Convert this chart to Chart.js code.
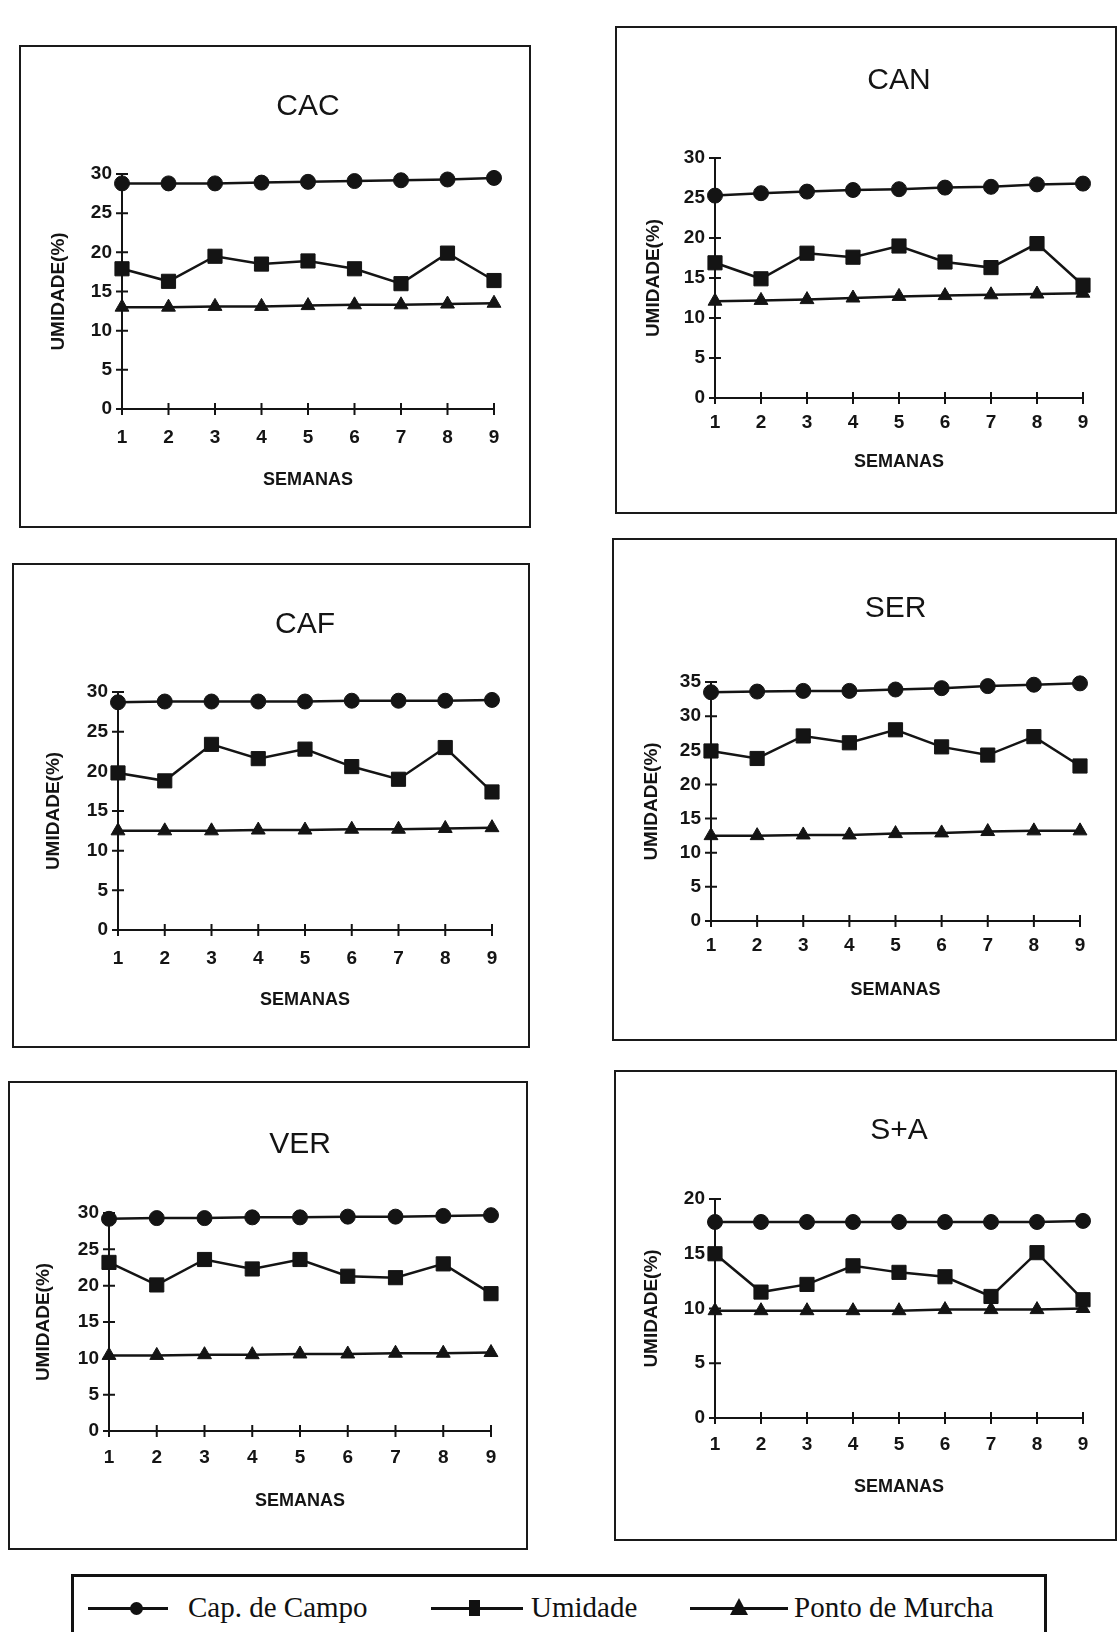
<!DOCTYPE html>
<html>
<head>
<meta charset="utf-8">
<script src="https://cdn.jsdelivr.net/npm/chart.js@4"></script>
<style>
  body { margin: 0; width: 1117px; height: 1632px; background: #fff; position: relative; overflow: hidden; }
  .caixa { position: absolute; outline: 2px solid #1a1a1a; }
  .caixa canvas { position: absolute; left: 0; top: 0; }
  #legenda { position: absolute; left: 71px; top: 1574px; width: 976px; height: 80px; border: 3px solid #111; box-sizing: border-box; font-family: "Liberation Serif", serif; font-size: 29px; color: #111; }
  .item { position: absolute; top: 13px; height: 34px; }
  .traco { position: absolute; top: 17px; height: 3px; background: #111; }
  .txt { position: absolute; top: 0; white-space: nowrap; line-height: 34px; }
  .circ { position: absolute; top: 12px; width: 13px; height: 13px; border-radius: 50%; background: #111; }
  .quad { position: absolute; top: 10px; width: 11px; height: 16px; background: #111; }
  .tri { position: absolute; top: 8px; width: 0; height: 0; border-left: 9px solid transparent; border-right: 9px solid transparent; border-bottom: 17px solid #111; }
</style>
</head>
<body>
<div id="legenda">
  <div class="item" style="left:14px">
    <div class="traco" style="left:0;width:80px"></div>
    <div class="circ" style="left:42px"></div>
    <div class="txt" style="left:100px">Cap. de Campo</div>
  </div>
  <div class="item" style="left:357px">
    <div class="traco" style="left:0;width:92px"></div>
    <div class="quad" style="left:38px"></div>
    <div class="txt" style="left:100px">Umidade</div>
  </div>
  <div class="item" style="left:616px">
    <div class="traco" style="left:0;width:98px"></div>
    <div class="tri" style="left:40px"></div>
    <div class="txt" style="left:104px">Ponto de Murcha</div>
  </div>
</div>
<script>
// semanas no eixo x
const semanas = ['1', '2', '3', '4', '5', '6', '7', '8', '9']

// CAC
const cacCampo = [28.8, 28.8, 28.8, 28.9, 29.0, 29.1, 29.2, 29.3, 29.5]
const cacUmidade = [17.9, 16.3, 19.5, 18.5, 18.9, 17.9, 16.0, 19.9, 16.4]
const cacMurcha = [13.0, 13.0, 13.1, 13.1, 13.2, 13.3, 13.3, 13.4, 13.5]

// CAN
const canCampo = [25.3, 25.6, 25.8, 26.0, 26.1, 26.3, 26.4, 26.7, 26.8]
const canUmidade = [16.9, 14.9, 18.1, 17.6, 19.0, 17.0, 16.3, 19.3, 14.1]
const canMurcha = [12.1, 12.2, 12.3, 12.5, 12.7, 12.8, 12.9, 13.0, 13.1]

// CAF
const cafCampo = [28.7, 28.8, 28.8, 28.8, 28.8, 28.9, 28.9, 28.9, 29.0]
const cafUmidade = [19.8, 18.8, 23.4, 21.6, 22.8, 20.6, 19.0, 23.0, 17.4]
const cafMurcha = [12.5, 12.5, 12.5, 12.6, 12.6, 12.7, 12.7, 12.8, 12.9]

// SER
const serCampo = [33.5, 33.6, 33.7, 33.7, 33.9, 34.1, 34.4, 34.6, 34.8]
const serUmidade = [24.9, 23.8, 27.1, 26.1, 28.0, 25.5, 24.3, 27.0, 22.7]
const serMurcha = [12.5, 12.5, 12.6, 12.6, 12.8, 12.9, 13.1, 13.2, 13.2]

// VER
const verCampo = [29.2, 29.3, 29.3, 29.4, 29.4, 29.5, 29.5, 29.6, 29.7]
const verUmidade = [23.2, 20.1, 23.6, 22.3, 23.6, 21.3, 21.1, 23.0, 18.9]
const verMurcha = [10.4, 10.4, 10.5, 10.5, 10.6, 10.6, 10.7, 10.7, 10.8]

// S+A
const saCampo = [17.9, 17.9, 17.9, 17.9, 17.9, 17.9, 17.9, 17.9, 18.0]
const saUmidade = [15.0, 11.5, 12.2, 13.9, 13.3, 12.9, 11.1, 15.1, 10.8]
const saMurcha = [9.8, 9.8, 9.8, 9.8, 9.8, 9.9, 9.9, 9.9, 10.0]

const cor = '#141414'
const fonte = '"Liberation Sans", Arial, sans-serif'

// posicao de cada quadro na pagina
const paineis = [
  { nome: 'CAC', campo: cacCampo, umidade: cacUmidade, murcha: cacMurcha, yMax: 30,
    box: { l: 21, t: 47, r: 529, b: 526 }, plot: { l: 122, t: 174, r: 494, b: 409 }, titleY: 107, yTitleX: 59, xTitleY: 479, xPad: 17 },
  { nome: 'CAN', campo: canCampo, umidade: canUmidade, murcha: canMurcha, yMax: 30,
    box: { l: 617, t: 28, r: 1115, b: 512 }, plot: { l: 715, t: 158, r: 1083, b: 398 }, titleY: 81, yTitleX: 654, xTitleY: 461, xPad: 13 },
  { nome: 'CAF', campo: cafCampo, umidade: cafUmidade, murcha: cafMurcha, yMax: 30,
    box: { l: 14, t: 565, r: 528, b: 1046 }, plot: { l: 118, t: 692, r: 492, b: 930 }, titleY: 625, yTitleX: 54, xTitleY: 999, xPad: 17 },
  { nome: 'SER', campo: serCampo, umidade: serUmidade, murcha: serMurcha, yMax: 35,
    box: { l: 614, t: 540, r: 1115, b: 1039 }, plot: { l: 711, t: 682, r: 1080, b: 921 }, titleY: 609, yTitleX: 652, xTitleY: 989, xPad: 13 },
  { nome: 'VER', campo: verCampo, umidade: verUmidade, murcha: verMurcha, yMax: 30,
    box: { l: 10, t: 1083, r: 526, b: 1548 }, plot: { l: 109, t: 1213, r: 491, b: 1431 }, titleY: 1145, yTitleX: 44, xTitleY: 1500, xPad: 15 },
  { nome: 'S+A', campo: saCampo, umidade: saUmidade, murcha: saMurcha, yMax: 20,
    box: { l: 616, t: 1072, r: 1115, b: 1539 }, plot: { l: 715, t: 1199, r: 1083, b: 1418 }, titleY: 1131, yTitleX: 652, xTitleY: 1486, xPad: 15 }
]

// marcas em cruz nos eixos
const cruzes = {
  id: 'cruzes',
  beforeDatasetsDraw(chart) {
    const ctx = chart.ctx
    const area = chart.chartArea
    const sx = chart.scales.x
    const sy = chart.scales.y
    ctx.save()
    ctx.strokeStyle = cor
    ctx.lineWidth = 2
    ctx.beginPath()
    sy.ticks.forEach((t, i) => {
      const y = sy.getPixelForTick(i)
      ctx.moveTo(area.left - 6, y)
      ctx.lineTo(area.left + 6, y)
    })
    sx.ticks.forEach((t, i) => {
      const x = sx.getPixelForTick(i)
      ctx.moveTo(x, area.bottom - 6)
      ctx.lineTo(x, area.bottom + 6)
    })
    ctx.stroke()
    ctx.restore()
  }
}

function serie(label, data, estilo, raio) {
  return {
    label: label,
    data: data,
    borderColor: cor,
    backgroundColor: cor,
    borderWidth: 2.5,
    pointStyle: estilo,
    pointRadius: raio,
    pointBorderWidth: 1,
    tension: 0,
    clip: false
  }
}

function criaPainel(p) {
  const w = p.box.r - p.box.l
  const h = p.box.b - p.box.t
  const div = document.createElement('div')
  div.className = 'caixa'
  div.style.left = p.box.l + 'px'
  div.style.top = p.box.t + 'px'
  div.style.width = w + 'px'
  div.style.height = h + 'px'
  const canvas = document.createElement('canvas')
  canvas.width = w
  canvas.height = h
  canvas.style.width = w + 'px'
  canvas.style.height = h + 'px'
  div.appendChild(canvas)
  document.body.appendChild(div)

  const plotL = p.plot.l - p.box.l
  const plotT = p.plot.t - p.box.t
  const plotR = p.plot.r - p.box.l
  const plotB = p.plot.b - p.box.t
  const titleY = p.titleY - p.box.t
  const padLeft = p.yTitleX - p.box.l - 11.4
  const xAxisH = p.xTitleY - p.box.t - plotB + 11.4
  const padBottom = h - plotB - xAxisH

  new Chart(canvas, {
    type: 'line',
    data: {
      labels: semanas,
      datasets: [
        serie('Cap. de Campo', p.campo, 'circle', 7.5),
        serie('Umidade', p.umidade, 'rect', 10),
        serie('Ponto de Murcha', p.murcha, 'triangle', 8)
      ]
    },
    options: {
      responsive: false,
      animation: false,
      layout: { padding: { left: padLeft, right: w - plotR, top: 0, bottom: padBottom } },
      plugins: {
        legend: { display: false },
        tooltip: { enabled: false },
        title: {
          display: true,
          fullSize: false,
          text: p.nome,
          color: cor,
          font: { family: fonte, size: 30, weight: 'normal', lineHeight: 1.2 },
          padding: { top: titleY - 18, bottom: plotT - titleY - 18 }
        }
      },
      scales: {
        x: {
          grid: { display: false, drawTicks: false },
          border: { color: cor, width: 2 },
          ticks: { color: cor, padding: p.xPad, maxRotation: 0, autoSkip: false, font: { family: fonte, size: 19, weight: 'bold' } },
          title: { display: true, text: 'SEMANAS', color: cor, padding: 0, font: { family: fonte, size: 18, weight: 'bold', lineHeight: 1.2 } },
          afterFit: s => { s.height = xAxisH }
        },
        y: {
          min: 0,
          max: p.yMax,
          grid: { display: false, drawTicks: false },
          border: { color: cor, width: 2 },
          ticks: { stepSize: 5, color: cor, padding: 10, font: { family: fonte, size: 19, weight: 'bold' } },
          title: { display: true, text: 'UMIDADE(%)', color: cor, padding: 0, font: { family: fonte, size: 19, weight: 'bold', lineHeight: 1.2 } },
          afterFit: s => { s.width = plotL - padLeft }
        }
      }
    },
    plugins: [cruzes]
  })
}

paineis.forEach(criaPainel)
</script>
</body>
</html>
